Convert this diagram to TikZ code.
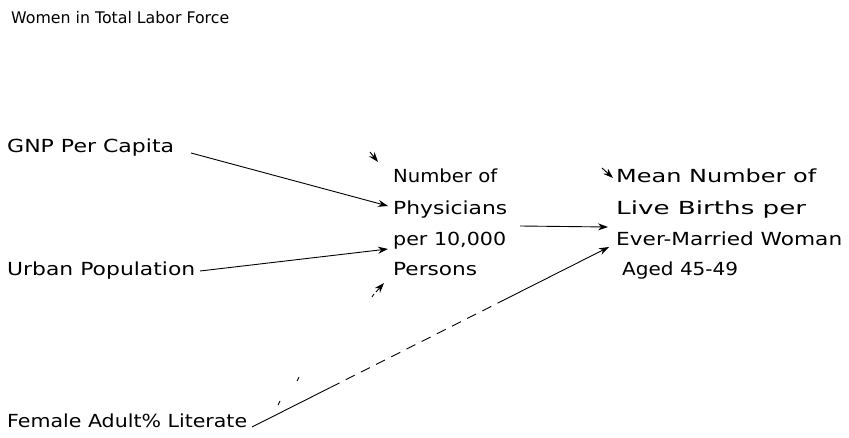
\documentclass[tikz,border=0pt]{standalone}
\usepackage{fontspec}
\usepackage{graphicx}
\setmainfont{DejaVu Sans}
\usetikzlibrary{arrows.meta,calc}
\newcommand{\fitw}[2]{\resizebox{#1pt}{\height}{#2}}
\begin{document}
\begin{tikzpicture}[x=1pt,y=-1pt,
  lbl/.style={anchor=base west,inner sep=0pt,font=\fontsize{18}{20}\selectfont},
  conn/.style={line width=0.9pt,-{Stealth[length=10pt,width=7pt]}},
  plain/.style={line width=0.9pt}]
\useasboundingbox (0,0) rectangle (849,438);
% labels
\node[lbl,font=\fontsize{16}{18}\selectfont] (wtlf) at (11,24) {\fitw{218}{Women in Total Labor Force}};
\node[lbl] (gnp) at (7,153) {\fitw{167}{GNP Per Capita}};
\node[lbl] (urb) at (7,276) {\fitw{188}{Urban Population}};
\node[lbl] (fal) at (7,427) {\fitw{240}{Female Adult\% Literate}};
\node[lbl] (ph1) at (393,183) {\fitw{104}{Number of}};
\node[lbl] (ph2) at (393,215) {\fitw{114}{Physicians}};
\node[lbl] (ph3) at (393,246) {\fitw{113}{per 10,000}};
\node[lbl] (ph4) at (393,276) {\fitw{84}{Persons}};
\node[lbl] (mb1) at (616,183) {\fitw{200}{Mean Number of}};
\node[lbl] (mb2) at (616,215) {\fitw{190}{Live Births per}};
\node[lbl] (mb3) at (616,246) {\fitw{226}{Ever-Married Woman}};
\node[lbl] (mb4) at (622,276) {\fitw{116}{Aged 45-49}};
% connector end points
\coordinate (gnpE) at (191,153);
\coordinate (urbE) at (200,271);
\coordinate (falE) at (252,427);
\coordinate (phyIn1) at (388,206);
\coordinate (phyIn2) at (388,249);
\coordinate (phyOut) at (520,226);
\coordinate (mbIn1) at (608,227);
\coordinate (mbIn2) at (609,247);
% stray arrowheads
\coordinate (s1a) at (370,152);
\coordinate (s1b) at (378,162);
\coordinate (s2a) at (602,168);
\coordinate (s2b) at (613,178);
\coordinate (s3a) at (376,292);
\coordinate (s3b) at (384,283);
% connectors
\draw[conn] (gnpE) -- (phyIn1);
\draw[conn] (urbE) -- (phyIn2);
\draw[conn] (phyOut) -- (mbIn1);
\draw[plain] (falE) -- ($(falE)!0.22!(mbIn2)$);
\draw[plain,dash pattern=on 10pt off 7pt] ($(falE)!0.22!(mbIn2)$) -- ($(falE)!0.7!(mbIn2)$);
\draw[conn] ($(falE)!0.7!(mbIn2)$) -- (mbIn2);
% lone heads
\draw[conn] (s1a) -- (s1b);
\draw[conn] (s2a) -- (s2b);
\draw[conn] (s3a) -- (s3b);
\draw[plain] (372,297) -- (374,294);
% stray ticks
\coordinate (t1a) at (297,381);
\coordinate (t1b) at (299,377);
\coordinate (t2a) at (278,405);
\coordinate (t2b) at (280,401);
\draw[plain] (t1a) -- (t1b);
\draw[plain] (t2a) -- (t2b);
\end{tikzpicture}
\end{document}
